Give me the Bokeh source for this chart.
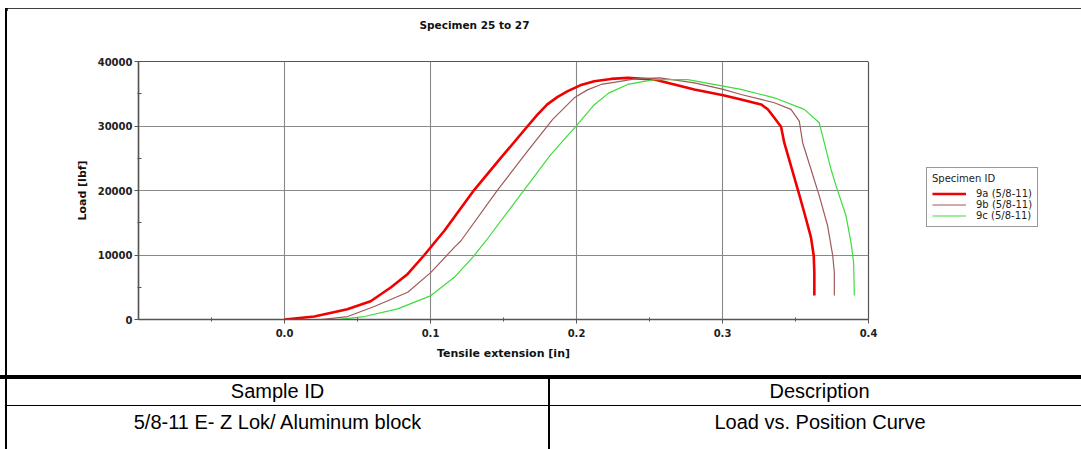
from bokeh.plotting import figure
from bokeh.models import (Range1d, FixedTicker, PrintfTickFormatter, BasicTickFormatter,
                          Legend, LegendItem, LinearAxis, Title, Div)
from bokeh.layouts import column, row
from bokeh.embed import file_html
from bokeh.resources import INLINE

# ---------------- data ----------------
title_text = "Specimen 25 to 27"
x_label = "Tensile extension [in]"
y_label = "Load [lbf]"
legend_title = "Specimen ID"
series_names = ["9a (5/8-11)", "9b (5/8-11)", "9c (5/8-11)"]

x_9a = [0.0, 0.0204, 0.043, 0.059, 0.073, 0.0844, 0.0958, 0.1038, 0.1095, 0.130, 0.1483,
        0.1666, 0.1734, 0.180, 0.1871, 0.194, 0.2025, 0.2122, 0.2236, 0.235, 0.2533, 0.2807,
        0.3005, 0.3127, 0.3264, 0.331, 0.3355, 0.3401, 0.3423, 0.3469, 0.3515, 0.356, 0.3606,
        0.3625, 0.3629, 0.3629]
y_9a = [0, 460, 1600, 2830, 5000, 7070, 10000, 12210, 13760, 20100, 25090,
        30000, 31800, 33350, 34520, 35400, 36300, 36950, 37300, 37460, 37200, 35670,
        34780, 34100, 33350, 32600, 31280, 29880, 27410, 23810, 20210, 16590, 12720,
        9890, 7310, 3710]

x_9b = [0.025, 0.0433, 0.0615, 0.0844, 0.1003, 0.1163, 0.1209, 0.146, 0.1666, 0.1837,
        0.1985, 0.2075, 0.2168, 0.2236, 0.24, 0.2572, 0.2807, 0.3005, 0.3127, 0.3264, 0.3355,
        0.3469, 0.3526, 0.3549, 0.3606, 0.3663, 0.372, 0.3755, 0.3766, 0.3766]
y_9b = [0, 460, 2010, 4220, 7310, 11180, 12210, 20100, 26130, 31030,
        34370, 35600, 36440, 36690, 37300, 37460, 36690, 35670, 34890, 34120, 33600,
        32570, 30770, 27410, 23300, 19170, 14530, 9890, 7310, 3710]

x_9c = [0.0364, 0.0547, 0.0775, 0.1003, 0.1163, 0.1289, 0.138, 0.1642, 0.1825, 0.2003,
        0.2122, 0.222, 0.235, 0.2533, 0.2762, 0.3005, 0.3127, 0.3264, 0.3355, 0.356, 0.3663,
        0.3697, 0.3743, 0.3789, 0.3846, 0.388, 0.3898, 0.3903]
y_9c = [0, 460, 1650, 3710, 6540, 9630, 12210, 20100, 25600, 30150,
        33300, 35100, 36440, 37200, 37200, 36180, 35670, 34890, 34370, 32570, 30500,
        27410, 23300, 19940, 16080, 11950, 8860, 3710]

x_ticks = [0.0, 0.1, 0.2, 0.3, 0.4]
x_minor = [-0.05, 0.05, 0.15, 0.25, 0.35]
y_ticks = [0, 10000, 20000, 30000, 40000]
y_minor = [5000, 15000, 25000, 35000]

table_header = ["Sample ID", "Description"]
table_row = ["5/8-11 E- Z Lok/ Aluminum block", "Load vs. Position Curve"]

# ---------------- styles ----------------
colors = ["#f00000", "#a05a5a", "#3ddc3d"]
widths = [2.6, 1.2, 1.2]
FONT = "DejaVu Sans"

# ---------------- chart ----------------
p = figure(frame_width=730, frame_height=258, x_range=Range1d(-0.1, 0.4), y_range=Range1d(0, 40000),
           output_backend="svg", toolbar_location=None,
           min_border_left=131, min_border_right=213, min_border_top=53, min_border_bottom=56)
p.title_location = None
p.background_fill_color = "white"
p.border_fill_color = "white"
p.outline_line_color = "#555555"
p.outline_line_width = 1.2

xa = p.below[0]
ya = p.left[0]

xa.ticker = FixedTicker(ticks=x_ticks, minor_ticks=x_minor)
ya.ticker = FixedTicker(ticks=y_ticks, minor_ticks=y_minor)
xa.formatter = PrintfTickFormatter(format="%.1f")
ya.formatter = BasicTickFormatter(use_scientific=False)
xa.axis_label = x_label
ya.axis_label = y_label

for ax in (xa, ya):
    ax.axis_line_color = "#555555"
    ax.axis_line_width = 1.5
    ax.major_tick_line_color = "#555555"
    ax.minor_tick_line_color = "#555555"
    ax.major_tick_in = 0
    ax.major_tick_out = 4
    ax.major_label_text_font = FONT
    ax.major_label_text_font_size = "10px"
    ax.major_label_text_font_style = "bold"
    ax.major_label_text_color = "#222222"
    ax.axis_label_text_font = FONT
    ax.axis_label_text_font_size = "11px"
    ax.axis_label_text_font_style = "bold"
    ax.axis_label_text_color = "#111111"

xa.minor_tick_in = 2
xa.minor_tick_out = 2
ya.minor_tick_in = 3
ya.minor_tick_out = 1
xa.major_label_standoff = 5
ya.major_label_standoff = 2
xa.axis_label_standoff = 7
ya.axis_label_standoff = 6

p.xgrid.grid_line_color = "#888888"
p.ygrid.grid_line_color = "#888888"
p.xgrid.grid_line_width = 1.1
p.ygrid.grid_line_width = 1.1

# invisible spacer (a blank axis) that holds the title away from the frame
spacer = LinearAxis(ticker=FixedTicker(ticks=[0.4]), major_tick_out=31, major_tick_in=0,
                    minor_tick_out=0, minor_tick_in=0, major_label_standoff=0,
                    major_label_overrides={0.4: ""}, major_label_text_font_size="0px",
                    axis_line_color=None, major_tick_line_color="white",
                    minor_tick_line_color=None)
p.add_layout(spacer, "above")
title = Title(text=title_text, align="left", offset=281, standoff=0,
              text_font=FONT, text_font_size="10.5px", text_font_style="bold",
              text_color="#111111")
p.add_layout(title, "above")

series = [(x_9a, y_9a), (x_9b, y_9b), (x_9c, y_9c)]
renderers = []
for (xs, ys), c, w in zip(series, colors, widths):
    renderers.append(p.line(xs, ys, line_color=c, line_width=w, line_join="round"))

legend = Legend(items=[LegendItem(label=n, renderers=[r]) for n, r in zip(series_names, renderers)],
                location=(58, 92), title=legend_title)
legend.border_line_color = "#333333"
legend.border_line_width = 1
legend.background_fill_color = "white"
legend.background_fill_alpha = 1
legend.margin = 0
legend.padding = 5
legend.spacing = 0
legend.glyph_width = 34
legend.glyph_height = 11
legend.label_height = 11
legend.label_standoff = 10
legend.label_text_font = FONT
legend.label_text_font_size = "10px"
legend.label_text_color = "#222222"
legend.title_text_font = FONT
legend.title_text_font_size = "10px"
legend.title_text_font_style = "normal"
legend.title_text_color = "#222222"
legend.title_standoff = 4
p.add_layout(legend, "right")

# ---------------- frame lines of the chart box ----------------
top_line = Div(text='<div style="position:relative;width:1081px;height:8px;">'
                    '<div style="position:absolute;left:5px;top:4px;width:1076px;height:3px;background:#000;"></div></div>',
               width=1081, height=8, margin=0)
left_line = Div(text='<div style="position:relative;width:7px;height:367px;">'
                     '<div style="position:absolute;left:5px;top:0px;width:2px;height:367px;background:#000;"></div></div>',
                width=7, height=367, margin=0)

# ---------------- table ----------------
cell_font = "font-family:'Liberation Sans',Arial,sans-serif;font-size:20px;color:#000;white-space:nowrap;"
def cell(txt, cx, cy):
    return ('<div style="position:absolute;left:%spx;top:%spx;transform:translate(-50%%,-50%%);%s">%s</div>'
            % (cx, cy, cell_font, txt))

table_html = (
    '<div style="position:relative;width:1081px;height:74px;background:#fff;">'
    '<div style="position:absolute;left:0px;top:0px;width:1081px;height:4px;background:#000;"></div>'
    '<div style="position:absolute;left:5px;top:0px;width:2px;height:74px;background:#000;"></div>'
    '<div style="position:absolute;left:547.5px;top:0px;width:2px;height:74px;background:#000;"></div>'
    '<div style="position:absolute;left:5px;top:29.5px;width:1076px;height:1.6px;background:#000;"></div>'
    + cell(table_header[0], 277.5, 15.5)
    + cell(table_header[1], 819.5, 15.5)
    + cell(table_row[0], 277.5, 47)
    + cell(table_row[1], 820, 47)
    + '</div>'
)
table = Div(text=table_html, width=1081, height=74, margin=0)

layout = column(top_line, row(left_line, p, spacing=0), table, spacing=0)
open("out.html", "w").write(file_html(layout, INLINE))
